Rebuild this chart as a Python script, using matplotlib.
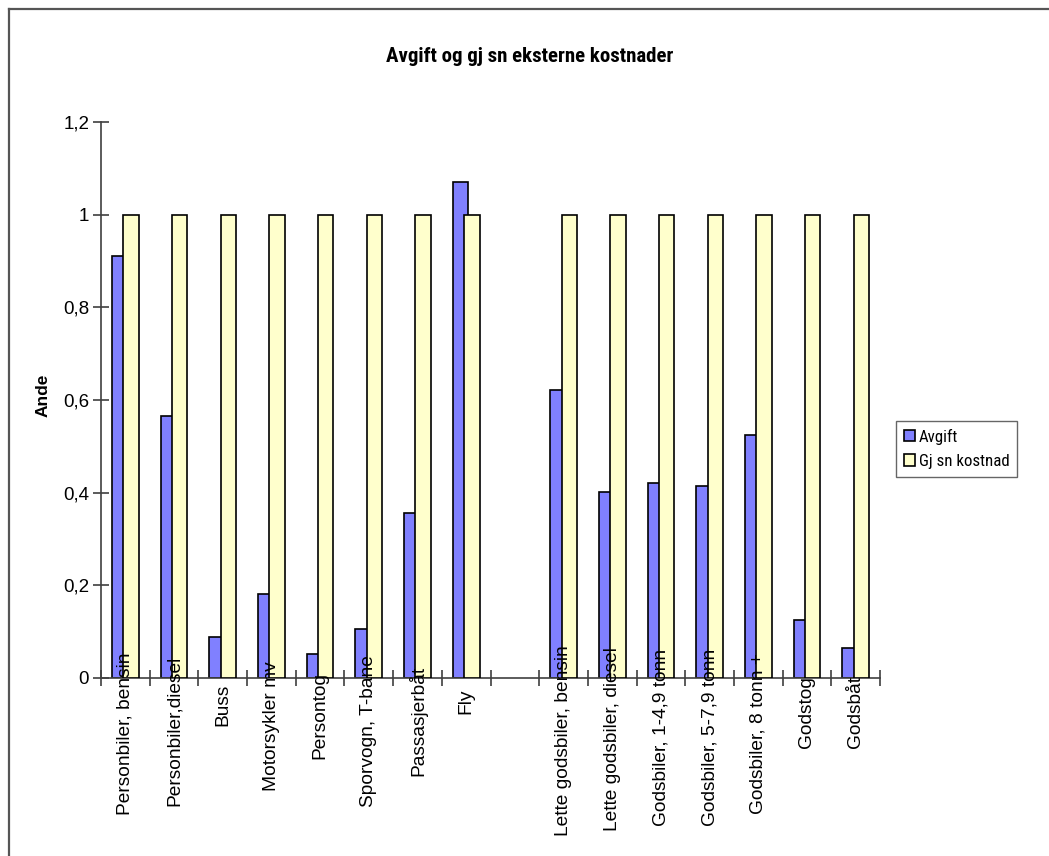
import numpy as np
import matplotlib
matplotlib.use('Agg')
import matplotlib.pyplot as plt
from matplotlib import font_manager
from matplotlib.transforms import Bbox, TransformedBbox
from matplotlib.lines import Line2D

plt.rcParams['font.family'] = ['Liberation Sans', 'DejaVu Sans']

# transport modes, '' is the empty gap between passenger and freight
categories = ['Personbiler, bensin', 'Personbiler,diesel', 'Buss', 'Motorsykler mv',
              'Persontog', 'Sporvogn, T-bane', 'Passasjerbåt', 'Fly', '',
              'Lette godsbiler, bensin', 'Lette godsbiler, diesel', 'Godsbiler, 1-4,9 tonn',
              'Godsbiler, 5-7,9 tonn', 'Godsbiler, 8 tonn +', 'Godstog', 'Godsbåt']
avgift = [0.91, 0.565, 0.089, 0.182, 0.051, 0.105, 0.357, 1.07, np.nan,
          0.621, 0.401, 0.42, 0.414, 0.525, 0.125, 0.064]
gjsn_kostnad = [1, 1, 1, 1, 1, 1, 1, 1, np.nan, 1, 1, 1, 1, 1, 1, 1]
yticks = [0, 0.2, 0.4, 0.6, 0.8, 1, 1.2]

# narrow face for title and legend if one is installed
installed = {f.name for f in font_manager.fontManager.ttflist}
narrow = None
for name in ['Liberation Sans Narrow', 'Roboto Condensed', 'Arial Narrow',
             'Open Sans Condensed', 'Noto Sans Condensed']:
    if name in installed:
        narrow = name
        break
condensed_dejavu = any(f.name == 'DejaVu Sans' and f.stretch == 'condensed'
                       for f in font_manager.fontManager.ttflist)
if narrow:
    nfont = {'family': [narrow, 'Liberation Sans']}
    title_size, leg_size = 15, 12.2
elif condensed_dejavu:
    nfont = {'family': ['DejaVu Sans'], 'stretch': 'condensed'}
    title_size, leg_size = 13, 12
else:
    nfont = {'family': ['Liberation Sans']}
    title_size, leg_size = 12.8, 11

W, H = 1049, 856
fig = plt.figure(figsize=(W / 100, H / 100), dpi=100)
ax = fig.add_axes([101 / W, 1 - 678 / H, (880 - 101) / W, (678 - 122) / H])

idx = [i for i, c in enumerate(categories) if c != '']
x = np.array(idx) + 0.5
bw = 0.315
off = 0.117
b1 = ax.bar(x - off, [avgift[i] for i in idx], bw, color='#8080ff',
            edgecolor='black', linewidth=1.2, zorder=2, label='Avgift')
b2 = ax.bar(x + off, [gjsn_kostnad[i] for i in idx], bw, color='#ffffcc',
            edgecolor='black', linewidth=1.2, zorder=3, label='Gj sn kostnad')

ax.set_xlim(0, len(categories))
ax.set_ylim(0, 1.2)
ax.set_yticks(yticks)
ax.set_yticklabels([('%g' % v).replace('.', ',') for v in yticks], fontsize=13.5)
ax.set_xticks(range(len(categories) + 1))
ax.set_xticklabels([])
ax.tick_params(direction='inout', length=11, width=1.2, color='#404040', pad=3)
for s in ['top', 'right']:
    ax.spines[s].set_visible(False)
for s in ['left', 'bottom']:
    ax.spines[s].set_color('#404040')
    ax.spines[s].set_linewidth(1.2)

# category labels, rotated and shifted along their length
labels = []
for i in idx:
    t = ax.text(i + 0.5, -0.1, categories[i], rotation=90, ha='center', va='center',
                fontsize=13.8, transform=ax.get_xaxis_transform(), zorder=5,
                clip_on=False)
    labels.append(t)

fig.canvas.draw()
r = fig.canvas.get_renderer()
axbb = ax.get_window_extent(r)
for t in labels:
    L = t.get_window_extent(r).height
    yc = H - (695 + 0.24 * L)
    t.set_y((yc - axbb.y0) / axbb.height)

fig.text(530 / W, 1 - 56 / H, 'Avgift og gj sn eksterne kostnader',
         weight='bold', fontsize=title_size, ha='center', va='center', **nfont)

# axis title, cut off at the top
yl = fig.text(43 / W, 1 - 417 / H, 'Andel', rotation=90, rotation_mode='anchor',
              ha='left', va='center', weight='bold', fontsize=12.5)
yl.set_clip_box(TransformedBbox(Bbox([[0, 0], [1, 1 - 375 / H]]), fig.transFigure))
yl.set_clip_on(True)

prop = dict(nfont)
prop['size'] = leg_size
leg = fig.legend(handles=[b1, b2], loc='upper left',
                 bbox_to_anchor=(896 / W, 1 - 421 / H), borderaxespad=0,
                 prop=prop, frameon=True, fancybox=False,
                 handlelength=0.65, handleheight=0.65,
                 handletextpad=0.25, labelspacing=0.55, borderpad=0.45)
leg.get_frame().set_edgecolor('#404040')
leg.get_frame().set_linewidth(1.0)

# frame round the chart area
fig.add_artist(Line2D([9 / W, 9 / W], [0, 1 - 9 / H], transform=fig.transFigure,
                      color='#555555', linewidth=1.6))
fig.add_artist(Line2D([9 / W, 1], [1 - 9 / H, 1 - 9 / H], transform=fig.transFigure,
                      color='#555555', linewidth=1.6))

fig.savefig('out.png', dpi=100)
